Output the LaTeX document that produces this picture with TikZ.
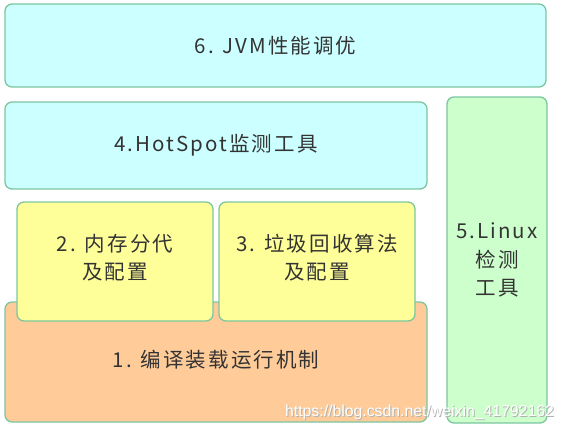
\documentclass[tikz,border=0pt]{standalone}
\usepackage{fontspec}
\newfontfamily\cjk[LetterSpace=10]{Noto Sans CJK SC}
\newfontfamily\wmfont{Liberation Sans}
\definecolor{edge}{HTML}{7CC6A0}
\definecolor{cyanfill}{HTML}{CCFFFF}
\definecolor{yellowfill}{HTML}{FFFF99}
\definecolor{orangefill}{HTML}{FFCC99}
\definecolor{greenfill}{HTML}{CCFFCC}
\definecolor{txt}{HTML}{333333}
\tikzset{
  blk/.style={draw=edge, line width=1.3pt, rounded corners=7pt, inner sep=0pt, outer sep=0pt,
    align=center, text=txt, font=\cjk\fontsize{20.5}{28.5}\selectfont},
  lbl/.style={text=txt, align=center, font=\cjk\fontsize{20.5}{28.5}\selectfont},
  wmark/.style={font=\wmfont\fontsize{15.8}{16}\selectfont, inner sep=0pt},
}
\begin{document}
\begin{tikzpicture}[x=1pt,y=-1pt]
\useasboundingbox (0,0) rectangle (566,434);
\node[blk, fill=cyanfill, minimum width=541pt, minimum height=83pt] (b6) at (275.5,45.5) {6. JVM性能调优};
\node[blk, fill=cyanfill, minimum width=422pt, minimum height=87pt] (b4) at (216,145.5) {4.HotSpot监测工具};
\node[blk, fill=greenfill, minimum width=100pt, minimum height=326pt] (b5) at (497,260) {5.Linux\\检测\\工具};
\node[blk, fill=orangefill, minimum width=422pt, minimum height=120pt] (b1) at (216,362) {};
\node[lbl] (t1) at (216,360) {1. 编译装载运行机制};
\node[blk, fill=yellowfill, minimum width=196pt, minimum height=119pt] (b2) at (115,261.5) {};
\node[lbl] (t2) at (115,257.5) {2. 内存分代\\及配置};
\node[blk, fill=yellowfill, minimum width=196pt, minimum height=119pt] (b3) at (317,261.5) {};
\node[lbl] (t3) at (317,257.5) {3. 垃圾回收算法\\及配置};
\node[wmark, text=black!30] (wms) at (420.5,413.5) {https://blog.csdn.net/weixin\_41792162};
\node[wmark, text=white] (wm) at (419.5,412.5) {https://blog.csdn.net/weixin\_41792162};
\end{tikzpicture}
\end{document}
